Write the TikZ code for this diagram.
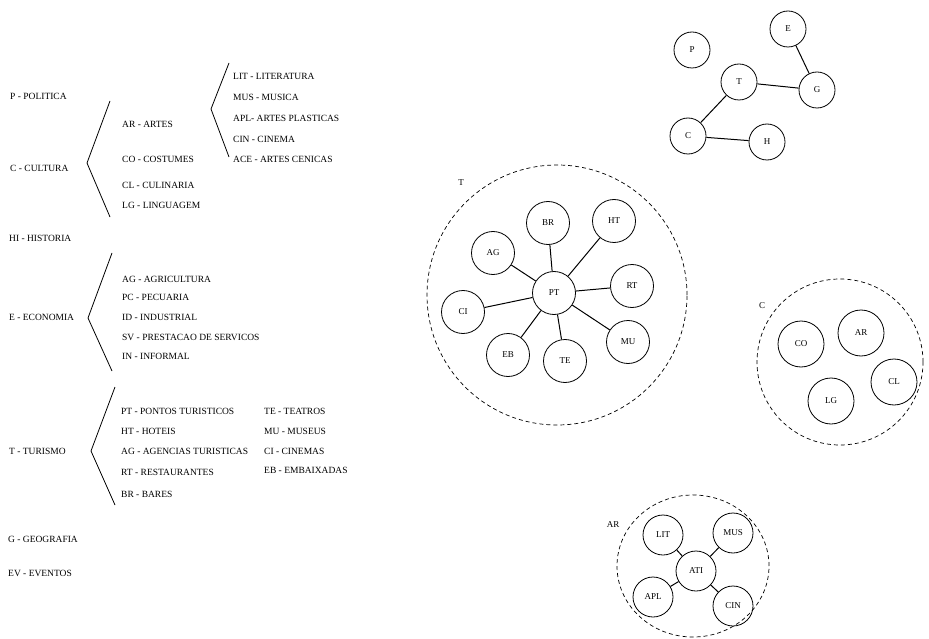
\documentclass[tikz,border=0pt]{standalone}
\usepackage{fontspec}
\setmainfont{Liberation Serif}
\usepackage{tikz}
\usetikzlibrary{shapes.geometric, positioning}

\begin{document}
\begin{tikzpicture}[x=1pt, y=-1pt,
  txt/.style={anchor=west, inner sep=0pt, font=\fontsize{9.5}{11}\selectfont},
  bub/.style={circle, draw, line width=0.8pt, inner sep=0pt, font=\fontsize{9}{10}\selectfont},
  grp/.style={draw, dashed, line width=0.7pt, dash pattern=on 4pt off 3pt},
  brk/.style={draw, line width=0.8pt},
  lnk/.style={draw, line width=1pt},
]
\useasboundingbox (0,0) rectangle (929,639);

% main topics
\node[txt] (pol) at (10,96)  {P - POLITICA};
\node[txt] (cul) at (10,168) {C - CULTURA};
\node[txt] (his) at (9,238)  {HI - HISTORIA};
\node[txt] (eco) at (9,317)  {E - ECONOMIA};
\node[txt] (tur) at (9,451)  {T - TURISMO};
\node[txt] (geo) at (8,539)  {G - GEOGRAFIA};
\node[txt] (eve) at (8,573)  {EV - EVENTOS};

% cultura
\draw[brk] (110,101) -- (87,163) -- (110,217);
\node[txt] (cAR) at (122,124) {AR - ARTES};
\node[txt] (cCO) at (122,159) {CO - COSTUMES};
\node[txt] (cCL) at (122,185) {CL - CULINARIA};
\node[txt] (cLG) at (122,205) {LG - LINGUAGEM};

\draw[brk] (229,63) -- (211,109) -- (229,157);
\node[txt] (aLIT) at (233,76)  {LIT - LITERATURA};
\node[txt] (aMUS) at (233,97)  {MUS - MUSICA};
\node[txt] (aAPL) at (233,118) {APL- ARTES PLASTICAS};
\node[txt] (aCIN) at (233,139) {CIN - CINEMA};
\node[txt] (aACE) at (233,159) {ACE - ARTES CENICAS};

% economia
\draw[brk] (112,253) -- (88,318) -- (112,371);
\node[txt] (eAG) at (122,279) {AG - AGRICULTURA};
\node[txt] (ePC) at (122,297) {PC - PECUARIA};
\node[txt] (eID) at (122,317) {ID - INDUSTRIAL};
\node[txt] (eSV) at (122,337) {SV - PRESTACAO DE SERVICOS};
\node[txt] (eIN) at (122,356) {IN - INFORMAL};

% turismo
\draw[brk] (115,387) -- (91,451) -- (115,505);
\node[txt] (tPT) at (121,411) {PT - PONTOS TURISTICOS};
\node[txt] (tHT) at (121,431) {HT - HOTEIS};
\node[txt] (tAG) at (121,451) {AG - AGENCIAS TURISTICAS};
\node[txt] (tRT) at (121,472) {RT - RESTAURANTES};
\node[txt] (tBR) at (121,494) {BR - BARES};
\node[txt] (tTE) at (264,411) {TE - TEATROS};
\node[txt] (tMU) at (264,431) {MU - MUSEUS};
\node[txt] (tCI) at (264,451) {CI - CINEMAS};
\node[txt] (tEB) at (264,470) {EB - EMBAIXADAS};

% top graph
\node[bub, minimum size=36pt] (p) at (692,50)  {P};
\node[bub, minimum size=36pt] (e) at (788,29)  {E};
\node[bub, minimum size=36pt] (t) at (739,82)  {T};
\node[bub, minimum size=36pt] (g) at (817,90)  {G};
\node[bub, minimum size=36pt] (c) at (688,136) {C};
\node[bub, minimum size=36pt] (h) at (767,142) {H};
\draw[lnk] (e) -- (g);
\draw[lnk] (t) -- (g);
\draw[lnk] (t) -- (c);
\draw[lnk] (c) -- (h);

% T group
\node[grp, circle, minimum size=260pt] (grpT) at (557,295) {};
\node[font=\fontsize{9}{10}\selectfont] (labT) at (461,183) {T};
\node[bub, minimum size=43pt] (pt) at (554,293) {PT};
\node[bub, minimum size=43pt] (br) at (548,223) {BR};
\node[bub, minimum size=43pt] (ht) at (614,221) {HT};
\node[bub, minimum size=43pt] (ag) at (493,253) {AG};
\node[bub, minimum size=43pt] (rt) at (632,286) {RT};
\node[bub, minimum size=43pt] (ci) at (463,312) {CI};
\node[bub, minimum size=43pt] (eb) at (508,355) {EB};
\node[bub, minimum size=43pt] (te) at (565,361) {TE};
\node[bub, minimum size=43pt] (mu) at (628,342) {MU};
\foreach \n in {br,ht,ag,rt,ci,eb,te,mu}
  \draw[lnk] (pt) -- (\n);

% C group
\node[grp, circle, minimum size=166pt] (grpC) at (840,362) {};
\node[font=\fontsize{9}{10}\selectfont] (labC) at (762,306) {C};
\node[bub, minimum size=46pt] (co) at (801,344) {CO};
\node[bub, minimum size=46pt] (ar) at (861,333) {AR};
\node[bub, minimum size=46pt] (cl) at (894,382) {CL};
\node[bub, minimum size=46pt] (lg) at (831,401) {LG};

% AR group
\node[grp, ellipse, minimum width=152pt, minimum height=142pt] (grpAR) at (693,566) {};
\node[font=\fontsize{9}{10}\selectfont] (labAR) at (613,525) {AR};
\node[bub, minimum size=40pt] (ati) at (696,571) {ATI};
\node[bub, minimum size=40pt] (lit) at (663,535) {LIT};
\node[bub, minimum size=40pt] (mus) at (733,533) {MUS};
\node[bub, minimum size=40pt] (apl) at (653,597) {APL};
\node[bub, minimum size=40pt] (cin) at (733,606) {CIN};
\foreach \n in {lit,mus,apl,cin}
  \draw[lnk] (ati) -- (\n);
\end{tikzpicture}
\end{document}
